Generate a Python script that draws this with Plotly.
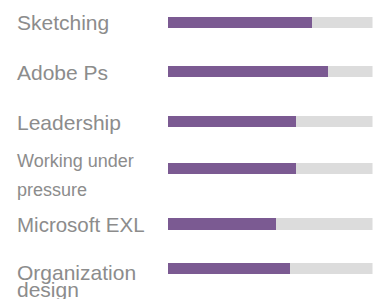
import plotly.graph_objects as go

# Data
skills = ["Sketching", "Adobe Ps", "Leadership", "Working under pressure", "Microsoft EXL", "Organization design"]
values = [70, 78, 62.5, 62.5, 52.5, 59.5]
track_max = [100, 100, 100, 100, 100, 100]

# Layout constants (pixel rows, label lines)
W, H = 382, 299
row_y = [22.5, 71.5, 121.5, 168.7, 224, 268.5]
label_lines = [
    [("Sketching", 22.5, 21)],
    [("Adobe Ps", 72, 21)],
    [("Leadership", 122, 21)],
    [("Working under", 161, 18), ("pressure", 189.6, 18)],
    [("Microsoft EXL", 224.7, 20.5)],
    [("Organization", 272.5, 21), ("design", 289.5, 21)],
]

PURPLE = "#7b5a92"
TRACK = "#dcdcdc"
TEXT = "#8c8c8c"

fig = go.Figure()
fig.add_trace(go.Bar(x=track_max, y=row_y, orientation="h", width=11.5,
                     marker=dict(color=TRACK, line=dict(width=0)), hoverinfo="skip",
                     name="track", showlegend=False))
fig.add_trace(go.Bar(x=values, y=row_y, orientation="h", width=11.5,
                     marker=dict(color=PURPLE, line=dict(width=0)),
                     customdata=skills, hovertemplate="%{customdata}: %{x}<extra></extra>",
                     name="level", showlegend=False))

annotations = []
for lines in label_lines:
    for text, y, size in lines:
        annotations.append(dict(
            text=text, x=15 / W, xref="paper", xanchor="left",
            y=y, yref="y", yanchor="middle", showarrow=False,
            font=dict(family="Liberation Sans, Arial, sans-serif", size=size, color=TEXT),
        ))

fig.update_layout(
    width=W, height=H, margin=dict(l=0, r=0, t=0, b=0),
    paper_bgcolor="white", plot_bgcolor="white",
    barmode="overlay", bargap=0,
    xaxis=dict(range=[0, 100], domain=[167.5 / W, 372.5 / W], visible=False, fixedrange=True),
    yaxis=dict(range=[H, 0], domain=[0, 1], visible=False, fixedrange=True),
    annotations=annotations,
)

fig.write_html("out.html", config={"displayModeBar": False},
               post_script="document.body.style.margin='0';document.body.style.overflow='hidden';")
